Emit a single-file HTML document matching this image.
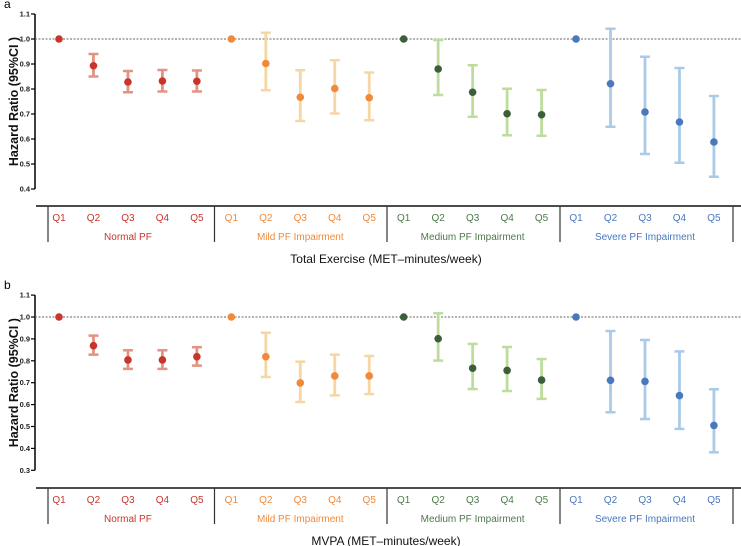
<!DOCTYPE html>
<html><head><meta charset="utf-8"><style>
html,body{margin:0;padding:0;background:#fff;}
svg{display:block;font-family:"Liberation Sans",Arial,sans-serif;}
</style></head><body>
<svg id="chart" width="741" height="546" viewBox="0 0 741 546"></svg>
<script>
const groups = ["Normal PF","Mild PF Impairment","Medium PF Impairment","Severe PF Impairment"];
const quintiles = ["Q1","Q2","Q3","Q4","Q5"];
const aEst = [1.0,0.893,0.828,0.832,0.831, 1.0,0.902,0.767,0.802,0.765, 1.0,0.880,0.787,0.701,0.697, 1.0,0.821,0.708,0.668,0.588];
const aLo  = [1.0,0.850,0.787,0.790,0.790, 1.0,0.795,0.672,0.702,0.675, 1.0,0.776,0.689,0.615,0.613, 1.0,0.649,0.540,0.505,0.449];
const aHi  = [1.0,0.940,0.872,0.876,0.874, 1.0,1.025,0.875,0.915,0.866, 1.0,0.996,0.895,0.801,0.796, 1.0,1.041,0.929,0.884,0.772];
const bEst = [1.0,0.869,0.804,0.804,0.819, 1.0,0.819,0.699,0.731,0.731, 1.0,0.901,0.766,0.756,0.712, 1.0,0.711,0.706,0.641,0.505];
const bLo  = [1.0,0.828,0.763,0.763,0.778, 1.0,0.726,0.612,0.642,0.648, 1.0,0.801,0.671,0.662,0.626, 1.0,0.565,0.534,0.489,0.382];
const bHi  = [1.0,0.915,0.848,0.848,0.862, 1.0,0.928,0.796,0.828,0.822, 1.0,1.017,0.877,0.863,0.808, 1.0,0.936,0.895,0.843,0.670];
const aTicks = [1.1,1.0,0.9,0.8,0.7,0.6,0.5,0.4];
const bTicks = [1.1,1.0,0.9,0.8,0.7,0.6,0.5,0.4,0.3];

const dotCol = ["#c9352b","#f08a3a","#3d5e3a","#4a78bd"];
const barCol = ["#e39383","#f6d7a4","#bddd9d","#a9cbe8"];
const txtCol = ["#c9352b","#f08a3a","#4d7a4a","#4a78bd"];
const NS="http://www.w3.org/2000/svg";
const svg=document.getElementById('chart');
function mk(tag,attrs,parent){const e=document.createElementNS(NS,tag);for(const k in attrs)e.setAttribute(k,attrs[k]);(parent||svg).appendChild(e);return e;}
function xPos(i){return 59+34.47*i;}

function panel(letter,top,pxPerUnit,ticks,est,lo,hi,axisY,title,key){
  const g=mk('g',{});
  
  
  const y=v=>top+(1-v)*pxPerUnit;
  const yMax=ticks[0],yMin=ticks[ticks.length-1];
  const lt=mk('text',{x:4,y:y(yMax)-6,'font-size':12,fill:'#000'},g);lt.textContent=letter;
  
  
  const ax=mk('line',{x1:35,x2:35,y1:y(yMax),y2:y(yMin),stroke:'#000','stroke-width':1.5},g);
  
  
  ticks.forEach(t=>{
    mk('line',{x1:31,x2:35,y1:y(t),y2:y(t),stroke:'#000','stroke-width':1.2},g);
    const tx=mk('text',{x:30,y:y(t)+2.5,'font-size':7.5,'font-weight':'bold','text-anchor':'end',fill:'#222'},g);
    tx.textContent=t.toFixed(1);
    
    
  });
  const yt=mk('text',{x:0,y:0,'font-size':12.5,'font-weight':'bold','text-anchor':'middle',fill:'#111',transform:`translate(18,${(y(yMax)+y(yMin))/2}) rotate(-90)`},g);
  yt.textContent='Hazard Ratio (95%CI )';
  
  
  const ref=mk('line',{x1:35,x2:741,y1:y(1),y2:y(1),stroke:'#666','stroke-width':1,'stroke-dasharray':'2,1.5'},g);
  
  
  for(let i=0;i<est.length;i++){
    const gi=Math.floor(i/5), x=xPos(i);
    if(hi[i]!==lo[i]){
      const eb=mk('g',{},g);
      
      
      mk('line',{x1:x,x2:x,y1:y(hi[i]),y2:y(lo[i]),stroke:barCol[gi],'stroke-width':2.8},eb);
      mk('line',{x1:x-5,x2:x+5,y1:y(hi[i]),y2:y(hi[i]),stroke:barCol[gi],'stroke-width':2.5},eb);
      mk('line',{x1:x-5,x2:x+5,y1:y(lo[i]),y2:y(lo[i]),stroke:barCol[gi],'stroke-width':2.5},eb);
    }
    const c=mk('circle',{cx:x,cy:y(est[i]),r:3.8,fill:dotCol[gi]},g);
    
    
  }
  const bl=mk('line',{x1:36,x2:741,y1:axisY,y2:axisY,stroke:'#111','stroke-width':1.5},g);
  
  
  [48,214.5,387,560,733].forEach(sx=>{
    const s=mk('line',{x1:sx,x2:sx,y1:axisY,y2:axisY+36,stroke:'#333','stroke-width':1.2},g);
    
    
  });
  for(let i=0;i<20;i++){
    const gi=Math.floor(i/5);
    const q=mk('text',{x:xPos(i),y:axisY+15,'font-size':10,'text-anchor':'middle',fill:txtCol[gi]},g);
    q.textContent=quintiles[i%5];
    
    
  }
  groups.forEach((gn,gi)=>{
    const t=mk('text',{x:xPos(gi*5+2),y:axisY+34,'font-size':10,'text-anchor':'middle',fill:txtCol[gi]},g);
    t.textContent=gn;
    
    
  });
  const xt=mk('text',{x:386,y:axisY+57,'font-size':12,'text-anchor':'middle',fill:'#111'},g);
  xt.textContent=title;
  
  
}
panel('a',39,250,aTicks,aEst,aLo,aHi,206,'Total Exercise (MET\u2013minutes/week)','a');
panel('b',317,219,bTicks,bEst,bLo,bHi,488,'MVPA (MET\u2013minutes/week)','b');
</script>
</body></html>
